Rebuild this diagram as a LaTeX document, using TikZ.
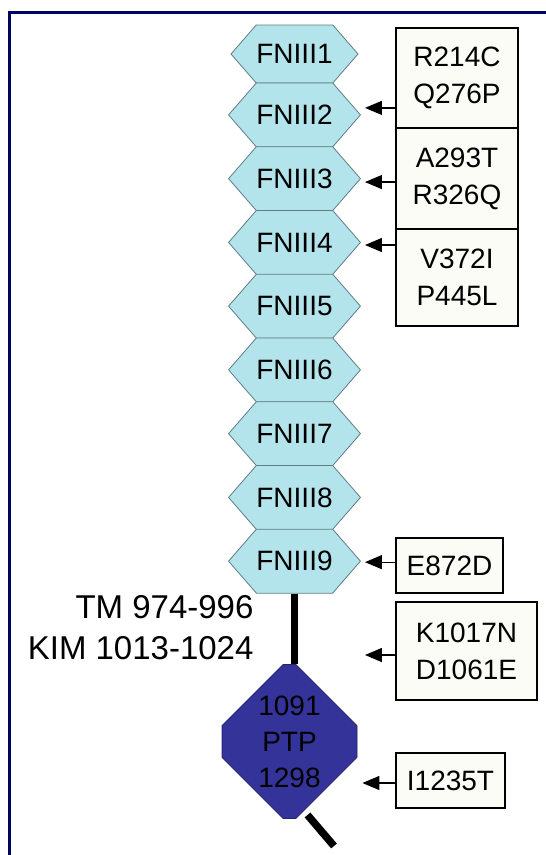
\documentclass[tikz,border=0pt]{standalone}
\usepackage{fontspec}
\setmainfont{Liberation Sans}
\usetikzlibrary{arrows.meta, shapes.symbols, shapes.misc, calc, backgrounds}
\definecolor{framenavy}{RGB}{2,2,102}
\definecolor{fnfill}{RGB}{180,228,235}
\definecolor{fnline}{RGB}{95,125,130}
\definecolor{ptpfill}{RGB}{51,51,153}
\definecolor{mutfill}{RGB}{252,252,246}
\tikzset{
  fndomain/.style={shape=signal, signal to=west and east, signal pointer angle=98,
    draw=fnline, fill=fnfill, line width=0.8pt, minimum width=127pt,
    minimum height=64pt, inner sep=0pt, font=\fontsize{28}{34}\selectfont},
  mutbox/.style={draw=black, fill=mutfill, line width=1.2pt, inner sep=0pt,
    align=center, font=\fontsize{28}{37}\selectfont},
  ptpdomain/.style={chamfered rectangle, chamfered rectangle xsep=30pt,
    chamfered rectangle ysep=38pt, draw=ptpfill!70!black, fill=ptpfill,
    line width=0.8pt, minimum width=135pt, minimum height=153pt, inner sep=0pt,
    align=center, font=\fontsize{28}{36}\selectfont},
  hit/.style={-{Triangle[length=17pt,width=14pt]}, line width=1.3pt},
  spine/.style={line width=7.5pt}
}

\begin{document}
\begin{tikzpicture}[x=1pt,y=-1pt]
  \useasboundingbox (0,0) rectangle (546,855);
  \draw[framenavy, line width=3pt] (9.5,860) -- (9.5,12.5) -- (550,12.5);

  % FNIII domains
  \node[fndomain, minimum height=58pt] (h1) at (294.5,54) {FNIII1};
  \foreach \i in {2,...,9}
    \node[fndomain] (h\i) at (294.5,{114.9+63.75*(\i-2)}) {FNIII\i};

  % membrane and phosphatase
  \node[ptpdomain] (ptp) at (289.5,741.5) {1091\\PTP\\1298};
  \node[anchor=east, align=right, font=\fontsize{33}{41}\selectfont] (tm)
    at (257,627.5) {TM 974-996\\KIM 1013-1024};
  \coordinate (tailend) at (334,846);
  \begin{scope}[on background layer]
    \fill[white] (0,0) rectangle (546,855);
    \draw[spine] (h9.south) -- (h9.south |- ptp.north);
    \draw[spine] ([xshift=18pt,yshift=4pt]ptp.south) -- (tailend);
  \end{scope}

  % mutations
  \node[mutbox, minimum width=122pt, minimum height=100pt] (m1) at (457,78) {R214C\\Q276P};
  \node[mutbox, minimum width=122pt, minimum height=101pt] (m2) at (457,178.5) {A293T\\R326Q};
  \node[mutbox, minimum width=122pt, minimum height=97pt] (m3) at (457,277.5) {V372I\\P445L};
  \node[mutbox, minimum width=107pt, minimum height=55pt] (m4) at (449.5,565.5) {E872D};
  \node[mutbox, minimum width=141pt, minimum height=98pt] (m5) at (466.5,651) {K1017N\\D1061E};
  \node[mutbox, minimum width=109pt, minimum height=55pt] (m6) at (450.5,780.5) {I1235T};

  \coordinate (a1) at ($(h2.east)+(4,-7)$);
  \coordinate (a2) at ($(h3.east)+(4,3.4)$);
  \coordinate (a3) at ($(h4.east)+(4,2.6)$);
  \coordinate (a4) at ($(h9.east)+(4,1)$);
  \coordinate (a5) at ($(h9.east |- m5.west)+(4,4)$);
  \coordinate (a6) at ($(ptp.east)+(5,41.5)$);
  \foreach \m/\a in {m1/a1, m2/a2, m3/a3, m4/a4, m5/a5, m6/a6}
    \draw[hit] (\m.west |- \a) -- (\a);
\end{tikzpicture}
\end{document}
